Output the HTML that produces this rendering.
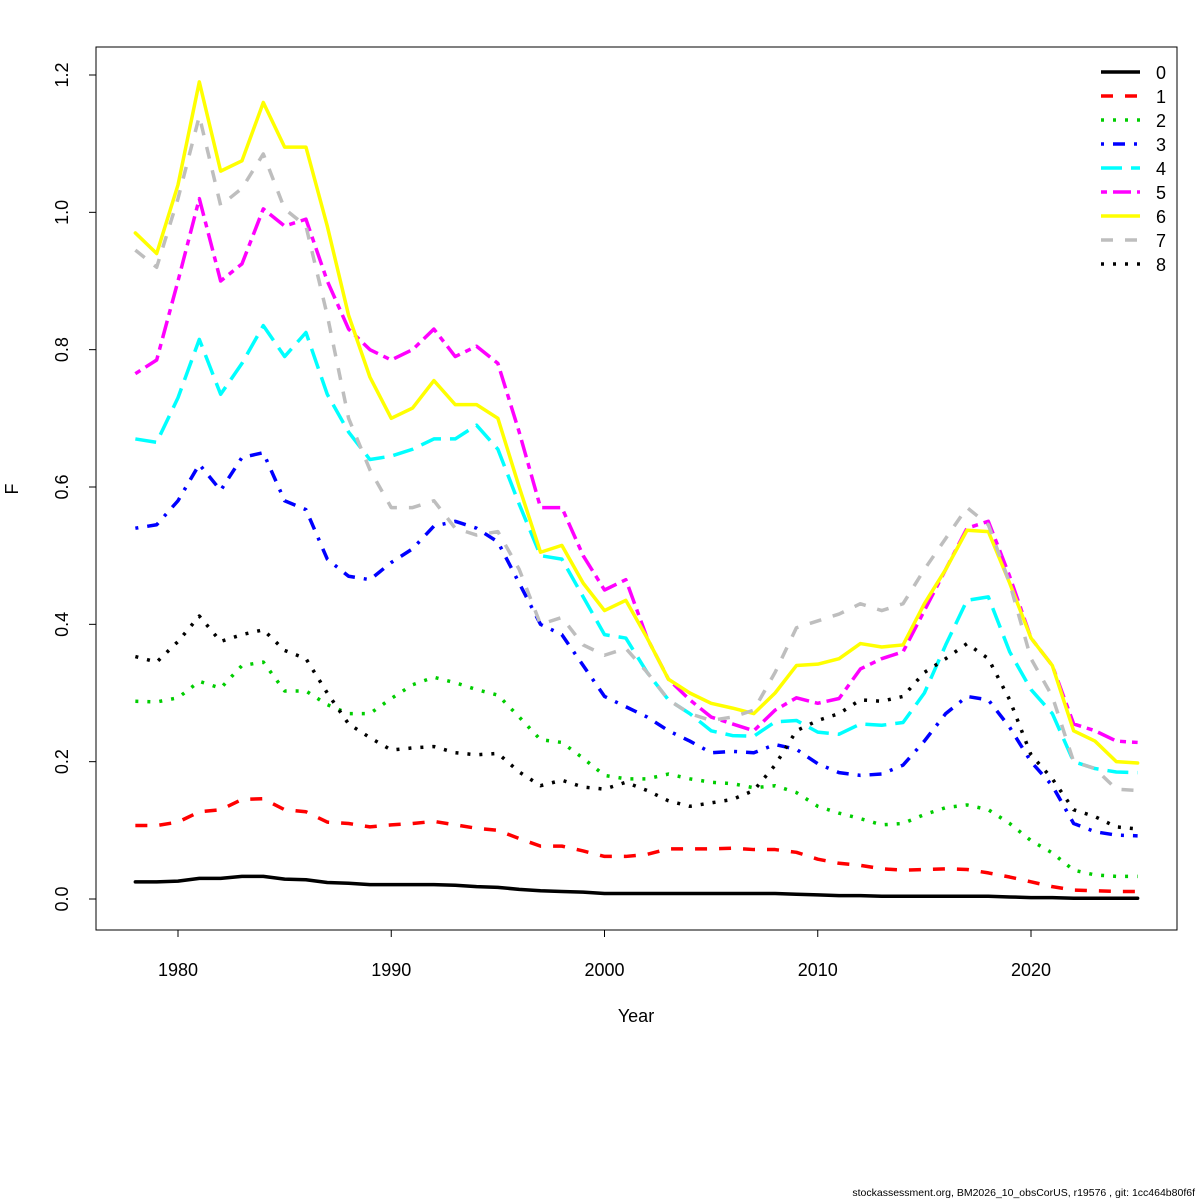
<!DOCTYPE html>
<html><head><meta charset="utf-8"><style>
html,body{margin:0;padding:0;background:#fff;}
svg{display:block;font-family:"Liberation Sans",sans-serif;}
</style></head><body>
<svg id="chart" width="1200" height="1200" viewBox="0 0 1200 1200" xmlns="http://www.w3.org/2000/svg">
<rect x="0" y="0" width="1200" height="1200" fill="#fff"/>
<rect x="96" y="47" width="1081" height="883" fill="none" stroke="#000" stroke-width="1"/>
<g id="axes"></g>
<g id="series"></g>
<g id="legend"></g>
<text x="636" y="1022" font-size="18" text-anchor="middle">Year</text>
<text x="18" y="489" font-size="18" text-anchor="middle" transform="rotate(-90 18 489)">F</text>
<text x="1195" y="1196" font-size="10.5" text-anchor="end">stockassessment.org, BM2026_10_obsCorUS, r19576 , git: 1cc464b80f6f</text>
</svg>
<script>
const years = [];
for (let y = 1978; y <= 2025; y++) years.push(y);
const xTicks = [1980, 1990, 2000, 2010, 2020];
const yTicks = [0, 0.2, 0.4, 0.6, 0.8, 1.0, 1.2];
const yTickLabels = ["0.0", "0.2", "0.4", "0.6", "0.8", "1.0", "1.2"];
const seriesNames = ["0","1","2","3","4","5","6","7","8"];
const f0 = [0.025,0.025,0.026,0.03,0.03,0.033,0.033,0.029,0.028,0.024,0.023,0.021,0.021,0.021,0.021,0.02,0.018,0.017,0.014,0.012,0.011,0.01,0.008,0.008,0.008,0.008,0.008,0.008,0.008,0.008,0.008,0.007,0.006,0.005,0.005,0.004,0.004,0.004,0.004,0.004,0.004,0.003,0.002,0.002,0.001,0.001,0.001,0.001];
const f1 = [0.107,0.107,0.112,0.127,0.13,0.145,0.146,0.13,0.127,0.112,0.11,0.105,0.108,0.11,0.113,0.108,0.103,0.1,0.088,0.077,0.077,0.07,0.062,0.062,0.065,0.073,0.073,0.073,0.074,0.072,0.072,0.068,0.058,0.052,0.049,0.044,0.042,0.043,0.044,0.043,0.038,0.032,0.025,0.018,0.013,0.012,0.011,0.011];
const f2 = [0.288,0.287,0.293,0.317,0.307,0.34,0.345,0.303,0.303,0.283,0.27,0.27,0.292,0.312,0.323,0.315,0.305,0.297,0.265,0.232,0.228,0.205,0.18,0.175,0.175,0.182,0.175,0.17,0.168,0.162,0.165,0.155,0.135,0.125,0.117,0.108,0.11,0.123,0.133,0.137,0.13,0.11,0.085,0.067,0.042,0.035,0.033,0.033];
const f3 = [0.54,0.545,0.58,0.633,0.595,0.643,0.65,0.58,0.567,0.495,0.47,0.465,0.49,0.51,0.543,0.55,0.54,0.52,0.46,0.4,0.385,0.34,0.295,0.28,0.265,0.245,0.23,0.213,0.215,0.213,0.225,0.218,0.197,0.184,0.18,0.182,0.195,0.23,0.27,0.295,0.29,0.25,0.2,0.165,0.11,0.098,0.093,0.092];
const f4 = [0.67,0.665,0.73,0.815,0.735,0.78,0.835,0.79,0.825,0.735,0.68,0.64,0.645,0.655,0.67,0.67,0.69,0.655,0.575,0.5,0.495,0.44,0.385,0.38,0.33,0.29,0.27,0.245,0.238,0.237,0.258,0.26,0.243,0.24,0.255,0.253,0.257,0.3,0.37,0.435,0.44,0.36,0.305,0.27,0.2,0.19,0.185,0.184];
const f5 = [0.765,0.785,0.9,1.02,0.9,0.925,1.005,0.98,0.99,0.9,0.83,0.8,0.785,0.8,0.83,0.79,0.805,0.78,0.68,0.57,0.57,0.5,0.45,0.465,0.38,0.32,0.29,0.265,0.255,0.245,0.275,0.293,0.285,0.292,0.335,0.35,0.36,0.42,0.48,0.54,0.55,0.47,0.38,0.34,0.255,0.245,0.23,0.228];
const f6 = [0.97,0.94,1.04,1.19,1.06,1.075,1.16,1.095,1.095,0.98,0.85,0.76,0.7,0.715,0.755,0.72,0.72,0.7,0.6,0.505,0.515,0.46,0.42,0.435,0.38,0.32,0.3,0.285,0.278,0.27,0.3,0.34,0.342,0.35,0.372,0.367,0.37,0.43,0.48,0.537,0.535,0.46,0.38,0.34,0.245,0.23,0.2,0.198];
const f7 = [0.945,0.92,1.02,1.14,1.01,1.035,1.085,1.005,0.98,0.85,0.7,0.625,0.57,0.57,0.58,0.54,0.53,0.535,0.48,0.4,0.41,0.37,0.355,0.365,0.33,0.29,0.27,0.26,0.265,0.275,0.33,0.395,0.405,0.415,0.43,0.42,0.43,0.48,0.525,0.57,0.545,0.46,0.35,0.295,0.2,0.19,0.16,0.158];
const f8 = [0.353,0.345,0.375,0.412,0.375,0.385,0.392,0.362,0.35,0.3,0.255,0.235,0.217,0.22,0.222,0.213,0.21,0.212,0.185,0.165,0.173,0.163,0.16,0.17,0.158,0.143,0.135,0.14,0.145,0.158,0.195,0.245,0.26,0.27,0.29,0.288,0.295,0.33,0.35,0.372,0.35,0.29,0.21,0.175,0.13,0.12,0.105,0.102];
const seriesValues = [f0,f1,f2,f3,f4,f5,f6,f7,f8];

const colors = ["#000000","#ff0000","#00cd00","#0000ff","#00ffff","#ff00ff","#ffff00","#bebebe","#000000"];
const dashes = ["", "12,12", "3,9", "3,9,12,9", "21,9", "6,6,18,6", "", "12,12", "3,9"];

function xScale(yr){ return 178 + (yr - 1980) * (1031 - 178) / 40; }
function yScale(v){ return 899 - v * (899 - 75) / 1.2; }

const NS = "http://www.w3.org/2000/svg";
const axes = document.getElementById("axes");
const seriesG = document.getElementById("series");
const legendG = document.getElementById("legend");
function mk(tag, attrs, parent){
  const e = document.createElementNS(NS, tag);
  for (const k in attrs) e.setAttribute(k, attrs[k]);
  parent.appendChild(e);
  return e;
}

const xAxisLine = mk("line", {x1: xScale(1980), x2: xScale(2020), y1: 930, y2: 930, stroke: "#000"}, axes);


xTicks.forEach(t => {
  const tk = mk("line", {x1: xScale(t), x2: xScale(t), y1: 930, y2: 937, stroke: "#000"}, axes);
  
  
  const lb = mk("text", {x: xScale(t), y: 976, "font-size": 18, "text-anchor": "middle"}, axes);
  lb.textContent = t;
  
  
});
const yAxisLine = mk("line", {x1: 96, x2: 96, y1: yScale(0), y2: yScale(1.2), stroke: "#000"}, axes);


yTicks.forEach((t, i) => {
  const tk = mk("line", {x1: 89, x2: 96, y1: yScale(t), y2: yScale(t), stroke: "#000"}, axes);
  
  
  const lb = mk("text", {x: 68, y: yScale(t), "font-size": 18, "text-anchor": "middle", transform: "rotate(-90 68 " + yScale(t) + ")"}, axes);
  lb.textContent = yTickLabels[i];
  
  
});

seriesValues.forEach((vals, s) => {
  const pts = vals.map((v, i) => xScale(years[i]).toFixed(2) + "," + yScale(v).toFixed(2)).join(" ");
  const attrs = {points: pts, fill: "none", stroke: colors[s], "stroke-width": 3.5, "stroke-linejoin": "round", "stroke-linecap": "round"};
  if (dashes[s]) { attrs["stroke-dasharray"] = dashes[s]; attrs["stroke-linecap"] = "butt"; }
  const pl = mk("polyline", attrs, seriesG);
  
  
});

seriesNames.forEach((n, s) => {
  const y = 72 + s * 24;
  const attrs = {x1: 1101, x2: 1140, y1: y, y2: y, stroke: colors[s], "stroke-width": 3.5};
  if (dashes[s]) attrs["stroke-dasharray"] = dashes[s];
  const ln = mk("line", attrs, legendG);
  
  
  const tx = mk("text", {x: 1156, y: y + 7, "font-size": 18}, legendG);
  tx.textContent = n;
  
  
});
</script>
</body></html>
